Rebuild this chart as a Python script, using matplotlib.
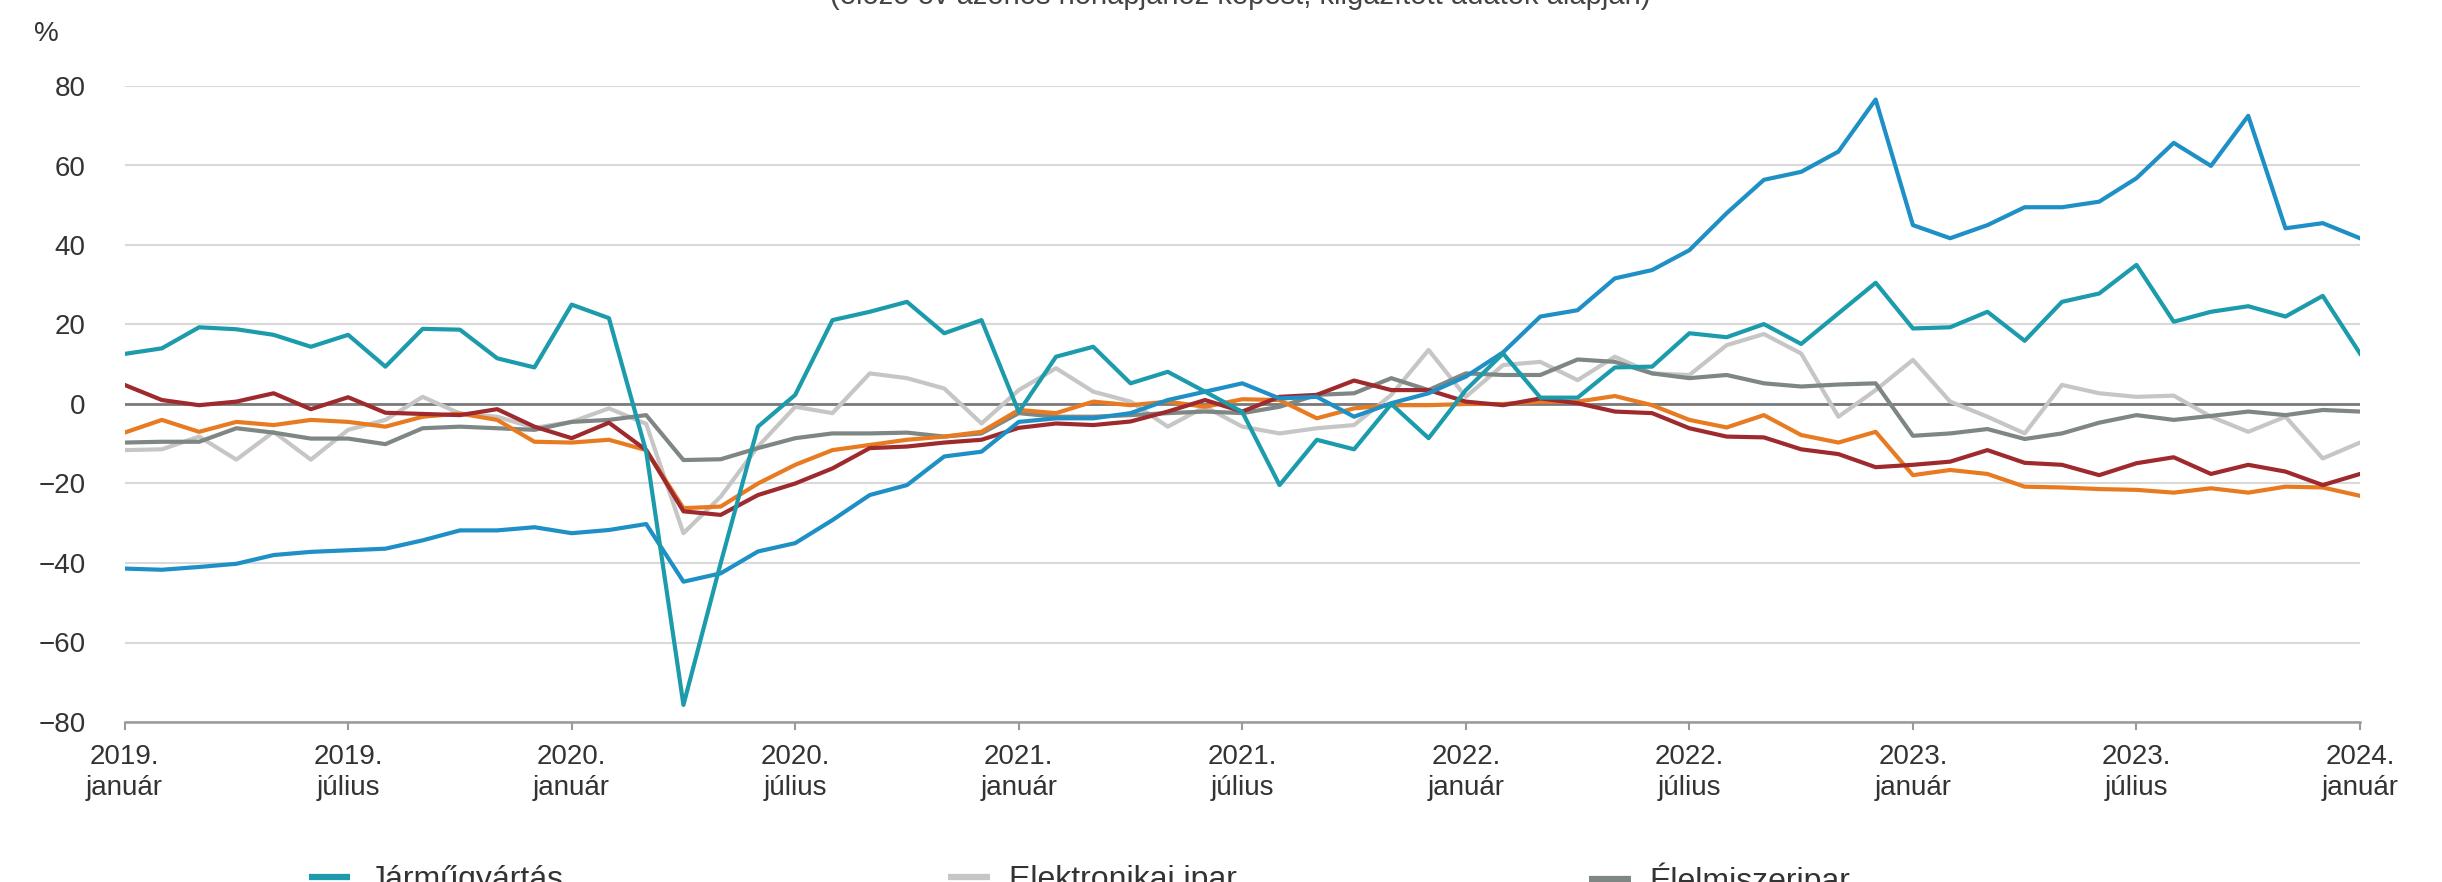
import matplotlib
matplotlib.use("Agg")
import matplotlib.pyplot as plt
from matplotlib.lines import Line2D
import numpy as np

plt.rcParams['font.family'] = ['Liberation Sans', 'DejaVu Sans']

months = np.arange(61)  # 2019 január .. 2024 január
tick_pos = [0, 6, 12, 18, 24, 30, 36, 42, 48, 54, 60]
tick_labels = ["2019.\njanuár", "2019.\njúlius", "2020.\njanuár", "2020.\njúlius",
               "2021.\njanuár", "2021.\njúlius", "2022.\njanuár", "2022.\njúlius",
               "2023.\njanuár", "2023.\njúlius", "2024.\njanuár"]

jarmu = [12.6, 14, 19.3, 18.8, 17.4, 14.4, 17.4, 9.4, 18.9, 18.7, 11.5, 9.2,
         25, 21.6, -12, -75.7, -40, -5.7, 2.3, 21.1, 23.2, 25.7, 17.8, 21.1,
         -2, 11.9, 14.4, 5.2, 8.1, 3.1, -2, -20.4, -9, -11.4, 0, -8.6,
         3.5, 12.7, 1.6, 1.6, 9.2, 9.4, 17.8, 16.8, 20.1, 15.1, 22.8, 30.5,
         19, 19.3, 23.2, 15.9, 25.7, 27.8, 35, 20.7, 23.2, 24.6, 22, 27.2, 12.7]

villamos = [-41.4, -41.7, -41, -40.2, -38, -37.2, -36.8, -36.4, -34.3, -31.8, -31.8, -31,
            -32.5, -31.7, -30.2, -44.7, -42.6, -37.1, -35, -29.2, -22.9, -20.4, -13.2, -12,
            -4.5, -3.6, -3.6, -2.3, 1, 3.1, 5.2, 1.4, 1.8, -3.2, 0.2, 2.7,
            6.9, 13, 22, 23.6, 31.6, 33.7, 38.7, 48, 56.4, 58.4, 63.5, 76.6,
            45, 41.7, 45, 49.5, 49.5, 50.9, 56.8, 65.7, 59.9, 72.5, 44.2, 45.5, 41.7]

vorosbarna = [4.8, 1, -0.3, 0.6, 2.7, -1.3, 1.7, -2.2, -2.5, -2.8, -1.3, -5.7,
              -8.6, -4.7, -11.6, -27, -27.9, -22.9, -20, -16.2, -11.1, -10.7, -9.7, -9,
              -6, -4.9, -5.3, -4.4, -1.9, 1, -1.9, 1.8, 2.3, 5.9, 3.5, 3.5,
              0.6, -0.3, 1.4, 0.2, -1.9, -2.3, -6.1, -8.2, -8.4, -11.4, -12.6, -15.9,
              -15.3, -14.5, -11.6, -14.8, -15.3, -17.9, -14.9, -13.4, -17.6, -15.3, -17, -20.4, -17.6]

narancs = [-7.2, -4, -7, -4.5, -5.3, -4, -4.5, -5.7, -3.2, -2.4, -4, -9.5,
           -9.7, -9, -11.6, -26.2, -25.8, -20, -15.3, -11.6, -10.3, -9, -8.2, -7,
           -1.5, -2.3, 0.6, -0.3, 0.6, -0.7, 1.2, 1, -3.6, -1.1, -0.3, -0.3,
           0, 0, 0.6, 0.6, 2, -0.3, -4, -5.9, -2.8, -7.8, -9.7, -7,
           -17.9, -16.6, -17.6, -20.8, -21, -21.4, -21.6, -22.3, -21.2, -22.3, -20.8, -21, -23.1]

elelmiszer = [-9.7, -9.5, -9.5, -6.1, -7.2, -8.7, -8.7, -10.1, -6.1, -5.7, -6.1, -6.5,
              -4.5, -4, -2.8, -14.1, -13.9, -11.1, -8.6, -7.4, -7.4, -7.2, -8.2, -7.4,
              -2.3, -3.2, -3.2, -2.8, -2.3, -1.9, -2.3, -0.7, 2.3, 2.7, 6.5, 3.5,
              7.7, 7.3, 7.3, 11.2, 10.6, 7.7, 6.5, 7.3, 5.2, 4.4, 4.9, 5.2,
              -8, -7.4, -6.3, -8.8, -7.4, -4.7, -2.8, -4, -3, -1.9, -2.8, -1.5, -1.9]

elektronikai = [-11.6, -11.4, -8.2, -14, -7, -14, -6.5, -4, 1.8, -2.4, -3.2, -6,
                -4.5, -1.1, -5, -32.5, -23.3, -10.7, -0.7, -2.3, 7.7, 6.5, 3.9, -4.9,
                3.5, 9, 3.1, 0.6, -5.7, -0.7, -5.7, -7.4, -6.1, -5.3, 2.3, 13.6,
                1.8, 9.8, 10.6, 6, 11.9, 7.7, 7.3, 14.8, 17.6, 12.7, -3.2, 3.5,
                11.1, 0.6, -3.2, -7.4, 4.8, 2.7, 1.8, 2.1, -3.2, -7, -3.2, -13.7, -9.7]

W, H = 2442, 882
fig = plt.figure(figsize=(W / 100, H / 100), dpi=100)
ax = fig.add_axes([124.6 / W, 1 - 722 / H, (2360 - 124.6) / W, (722 - 86) / H])

C_TEAL = "#1b9bab"
C_BLUE = "#1f90c6"
C_LGRAY = "#c6c6c6"
C_DGRAY = "#7e8784"
C_ORANGE = "#e87b22"
C_RED = "#9e2a2e"

lw = 3.0
ax.plot(months, elektronikai, color=C_LGRAY, lw=lw, zorder=3)
ax.plot(months, elelmiszer, color=C_DGRAY, lw=lw, zorder=3)
ax.plot(months, narancs, color=C_ORANGE, lw=lw, zorder=3)
ax.plot(months, vorosbarna, color=C_RED, lw=lw, zorder=3)
ax.plot(months, villamos, color=C_BLUE, lw=lw, zorder=3)
ax.plot(months, jarmu, color=C_TEAL, lw=lw, zorder=3)

ax.set_xlim(0, 60)
ax.set_ylim(-80, 80)
ax.set_yticks(np.arange(-80, 81, 20))
ax.yaxis.grid(True, color="#d9d9d9", lw=1.5, zorder=0)
ax.axhline(0, color="#7a7a7a", lw=2.0, zorder=1)
ax.set_axisbelow(True)

for s in ["top", "right", "left"]:
    ax.spines[s].set_visible(False)
ax.spines["bottom"].set_color("#9a9a9a")
ax.spines["bottom"].set_linewidth(1.8)

ax.set_xticks(tick_pos)
ax.set_xticklabels(tick_labels, linespacing=1.25)
ax.tick_params(axis="x", length=6, width=1.5, color="#9a9a9a", pad=10,
               labelsize=20, labelcolor="#333333")
ax.tick_params(axis="y", length=0, pad=28, labelsize=20, labelcolor="#333333")

fig.text(34 / W, 1 - 34 / H, "%", fontsize=20, color="#333333", va="center", ha="left")

fig.text(1240 / W, 1 - 4 / H,
         "(előző év azonos hónapjához képest, kiigazított adatok alapján)",
         fontsize=21, color="#444444", ha="center", va="baseline")

legend_items = [("Járműgyártás", C_TEAL, 308.6), ("Elektronikai ipar", C_LGRAY, 948),
                ("Élelmiszeripar", C_DGRAY, 1589)]
for label, col, x in legend_items:
    h = Line2D([], [], color=col, lw=4.5, solid_capstyle="butt")
    fig.legend([h], [label], loc="center left", bbox_to_anchor=(x / W, 2 / H),
               frameon=False, borderpad=0, borderaxespad=0, handlelength=1.3,
               handletextpad=0.6, fontsize=23, labelcolor="#333333")

fig.savefig("out.png", dpi=100)
